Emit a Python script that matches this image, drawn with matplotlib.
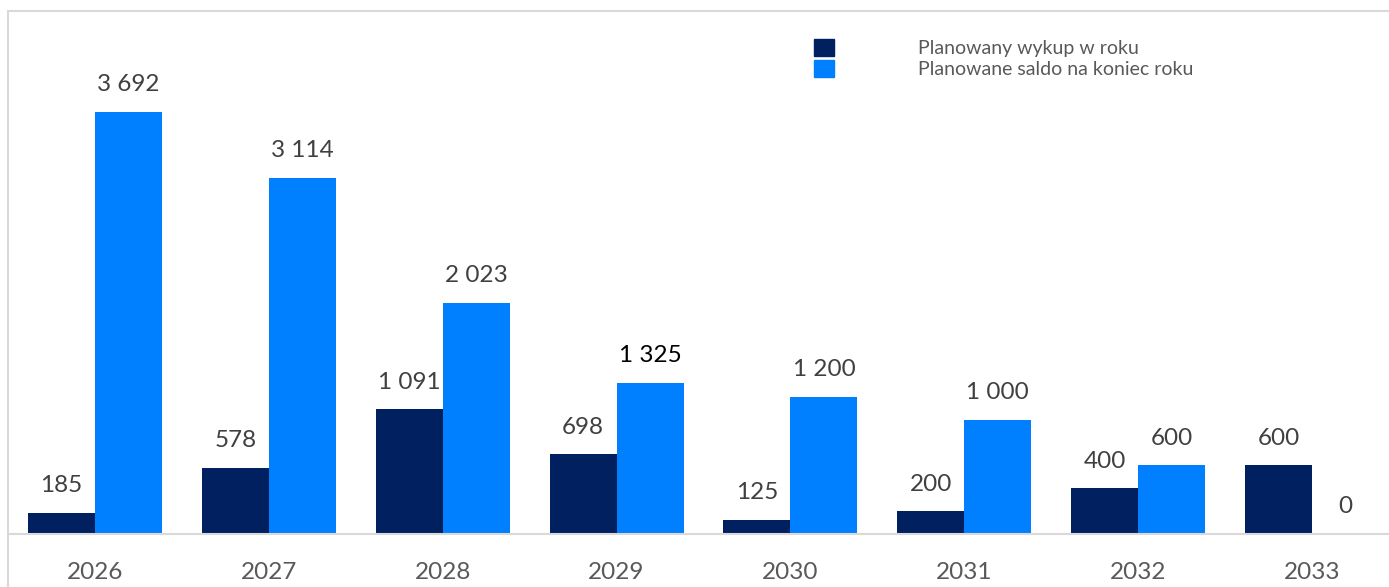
import matplotlib.pyplot as plt
from matplotlib.patches import Rectangle, Patch

years = ["2026", "2027", "2028", "2029", "2030", "2031", "2032", "2033"]
wykup = [185, 578, 1091, 698, 125, 200, 400, 600]
saldo = [3692, 3114, 2023, 1325, 1200, 1000, 600, 0]
wykup_labels = ["185", "578", "1 091", "698", "125", "200", "400", "600"]
saldo_labels = ["3 692", "3 114", "2 023", "1 325", "1 200", "1 000", "600", "0"]

dark = "#002060"
blue = "#0080FF"

W, H = 1389, 587
fig = plt.figure(figsize=(W / 100, H / 100), dpi=100)

# ramka obszaru wykresu (ucieta z prawej i u dolu)
fig.patches.append(Rectangle((8 / W, -0.1), 1.2, 1.1 - 11 / H, transform=fig.transFigure,
                             fill=False, edgecolor="#D9D9D9", linewidth=1.5, zorder=0))

ax = fig.add_axes([8 / W, 53 / H, 1391 / W, 523 / H])
ax.set_facecolor("none")

x = list(range(len(years)))
bw = 0.385
ax.bar([i - bw / 2 for i in x], wykup, width=bw, color=dark, label="Planowany wykup w roku")
ax.bar([i + bw / 2 for i in x], saldo, width=bw, color=blue, label="Planowane saldo na koniec roku")

for i in x:
    ax.annotate(wykup_labels[i], (i - bw / 2, wykup[i]), xytext=(0, 19.5), textcoords="offset points",
                ha="center", va="center", fontsize=17.5, family="Lato", color="#404040")
    c = "black" if saldo_labels[i] == "1 325" else "#404040"
    ax.annotate(saldo_labels[i], (i + bw / 2, saldo[i]), xytext=(0, 19.5), textcoords="offset points",
                ha="center", va="center", fontsize=17.5, family="Lato", color=c)

ax.set_xlim(-0.5, 7.5)
ax.set_ylim(0, 523 / 0.1143)
ax.set_xticks(x)
ax.set_xticklabels(years, fontsize=17.5, family="Lato", color="#595959")
ax.tick_params(axis="x", length=0, pad=20.5)
ax.set_yticks([])
for s in ["left", "top", "right"]:
    ax.spines[s].set_visible(False)
ax.spines["bottom"].set_color("#D9D9D9")
ax.spines["bottom"].set_linewidth(1.5)

handles = [Patch(color=dark), Patch(color=blue)]
fig.legend(handles, ["Planowany wykup w roku", "Planowane saldo na koniec roku"],
           loc="upper left", bbox_to_anchor=(814 / W, 1 - 39 / H), frameon=False,
           borderpad=0, borderaxespad=0, handlelength=1.03, handleheight=0.95,
           handletextpad=4.3, labelspacing=0.16,
           prop={"family": "Lato", "size": 14}, labelcolor="#595959")

fig.savefig("out.png", dpi=100)
